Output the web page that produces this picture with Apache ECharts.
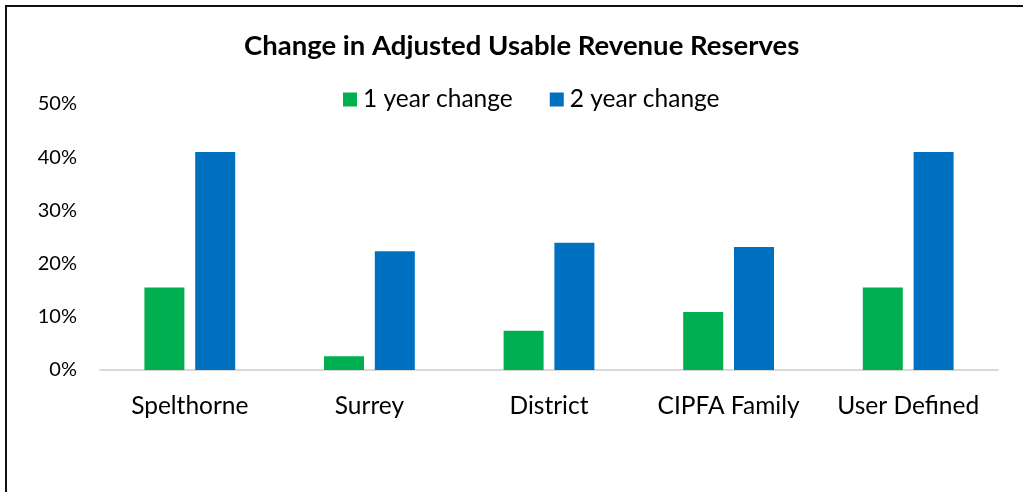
<!DOCTYPE html>
<html>
<head>
<meta charset="utf-8">
<script src="https://cdn.jsdelivr.net/npm/echarts@6/dist/echarts.min.js"></script>
<style>
  html, body { margin: 0; padding: 0; background: #fff; overflow: hidden; }
  #frame { position: absolute; left: 5px; top: 5px; width: 1040px; height: 520px; border: 2px solid #111; }
  #chart { position: absolute; left: 0; top: 0; width: 1023px; height: 492px; }
</style>
</head>
<body>
<div id="frame"></div>
<div id="chart"></div>
<script>
const categories = ['Spelthorne', 'Surrey', 'District', 'CIPFA Family', 'User Defined'];
const oneYear = [15.5, 2.6, 7.4, 10.9, 15.5];
const twoYear = [41.0, 22.3, 23.9, 23.1, 41.0];
const yTicks = [0, 10, 20, 30, 40, 50];

const chartDom = document.getElementById('chart');
const myChart = echarts.init(chartDom);

const option = {
    animation: false,
    title: {
        text: 'Change in Adjusted Usable Revenue Reserves',
        left: 244,
        top: 32,
        padding: 0,
        textStyle: {
            fontFamily: 'Lato',
            fontWeight: 'bold',
            fontSize: 27.5,
            color: '#000'
        }
    },
    legend: {
        top: 82,
        left: 338,
        itemWidth: 14,
        itemHeight: 14,
        itemGap: 37,
        icon: 'rect',
        textStyle: {
            fontFamily: 'Lato',
            fontSize: 24.5,
            color: '#000',
            padding: [0, 0, 0, 1]
        }
    },
    grid: {
        left: 100,
        right: 25,
        top: 104,
        bottom: 122
    },
    xAxis: {
        type: 'category',
        data: categories,
        axisLine: { lineStyle: { color: '#d9d9d9', width: 2 } },
        axisTick: { show: false },
        axisLabel: {
            interval: 0,
            fontFamily: 'Lato',
            fontSize: 24.5,
            color: '#000',
            margin: 24
        }
    },
    yAxis: {
        type: 'value',
        min: yTicks[0],
        max: yTicks[yTicks.length - 1],
        interval: 10,
        splitLine: { show: false },
        axisLine: { show: false },
        axisTick: { show: false },
        axisLabel: {
            fontFamily: 'Lato',
            fontSize: 20,
            color: '#000',
            margin: 23,
            formatter: (v) => v + '%'
        }
    },
    series: [
        {
            name: '1 year change',
            type: 'bar',
            data: oneYear,
            barWidth: 40,
            barGap: '27%',
            itemStyle: { color: '#00b050' }
        },
        {
            name: '2 year change',
            type: 'bar',
            data: twoYear,
            barWidth: 40,
            itemStyle: { color: '#0070c0' }
        }
    ]
};
myChart.setOption(option);
</script>
</body>
</html>
